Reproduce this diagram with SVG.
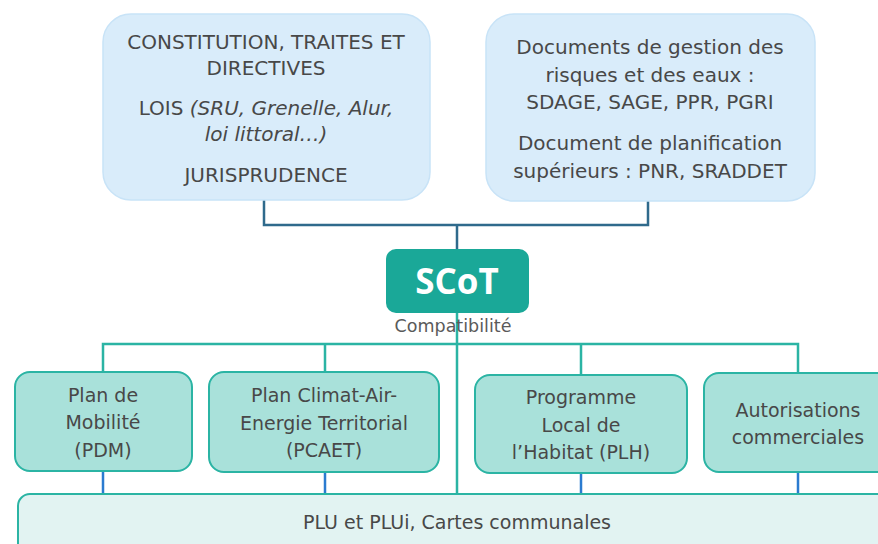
<svg xmlns="http://www.w3.org/2000/svg" width="878" height="544" viewBox="0 0 878 544">
<style>
.t{font-family:"DejaVu Sans","Open Sans",sans-serif;fill:#484848;text-anchor:middle}
.a{font-size:20px}
.b{font-size:19px}
.top{fill:#d9ecfa;stroke:#c8e3f7;stroke-width:1.5}
.sub{fill:#a9e1da;stroke:#2bb4a4;stroke-width:2}
.dk{stroke:#2f6a8c;stroke-width:2.5;fill:none}
.tl{stroke:#2bb4a4;stroke-width:2.5;fill:none}
.bl{stroke:#2b7bd0;stroke-width:2.5;fill:none}
</style>
<rect width="878" height="544" fill="#ffffff"/>
<g id="connectors">
<path class="dk" d="M264 200 V225 H648 V200 M457 225 V250"/>
<path class="tl" d="M103 372 V344 H798 V373 M325 344 V372 M581 344 V375 M457 312 V495"/>
<path class="bl" d="M103 471 V494 M325 472 V494 M581 473 V494 M798 472 V494"/>
</g>
<g id="n-constitution">
<rect class="top" x="103" y="14" width="327" height="186" rx="28"/>
<text class="t a" x="266" y="49">CONSTITUTION, TRAITES ET</text>
<text class="t a" x="266" y="75">DIRECTIVES</text>
<text class="t a" x="266" y="115">LOIS <tspan font-style="italic">(SRU, Grenelle, Alur,</tspan></text>
<text class="t a" x="266" y="141" font-style="italic">loi littoral…)</text>
<text class="t a" x="266" y="182">JURISPRUDENCE</text>
</g>
<g id="n-documents">
<rect class="top" x="486" y="14" width="329" height="187" rx="28"/>
<text class="t a" x="650" y="54">Documents de gestion des</text>
<text class="t a" x="650" y="82">risques et des eaux :</text>
<text class="t a" x="650" y="109">SDAGE, SAGE, PPR, PGRI</text>
<text class="t a" x="650" y="150">Document de planification</text>
<text class="t a" x="650" y="178">supérieurs : PNR, SRADDET</text>
</g>
<g id="n-scot">
<rect x="386" y="249" width="143" height="64" rx="10" fill="#1aa898"/>
<text x="457" y="294" font-family="'Open Sans','DejaVu Sans',sans-serif" font-size="35" font-weight="bold" fill="#ffffff" text-anchor="middle">SCoT</text>
<text class="t" font-size="17.5" x="453" y="332" style="fill:#5a5a5a">Compatibilité</text>
</g>
<g id="n-pdm">
<rect class="sub" x="15" y="372" width="177" height="99" rx="15"/>
<text class="t b" x="103" y="402">Plan de</text>
<text class="t b" x="103" y="429">Mobilité</text>
<text class="t b" x="103" y="457">(PDM)</text>
</g>
<g id="n-pcaet">
<rect class="sub" x="209" y="372" width="230" height="100" rx="15"/>
<text class="t b" x="324" y="402">Plan Climat-Air-</text>
<text class="t b" x="324" y="430">Energie Territorial</text>
<text class="t b" x="324" y="457">(PCAET)</text>
</g>
<g id="n-plh">
<rect class="sub" x="475" y="375" width="212" height="98" rx="15"/>
<text class="t b" x="581" y="404">Programme</text>
<text class="t b" x="581" y="432">Local de</text>
<text class="t b" x="581" y="459">l’Habitat (PLH)</text>
</g>
<g id="n-autorisations">
<rect class="sub" x="704" y="373" width="188" height="99" rx="15"/>
<text class="t b" x="798" y="417">Autorisations</text>
<text class="t b" x="798" y="444">commerciales</text>
</g>
<g id="n-plu">
<rect x="18" y="494" width="878" height="70" rx="12" fill="#e2f3f2" stroke="#2bb4a4" stroke-width="2"/>
<text class="t b" x="457" y="529">PLU et PLUi, Cartes communales</text>
</g>
</svg>
